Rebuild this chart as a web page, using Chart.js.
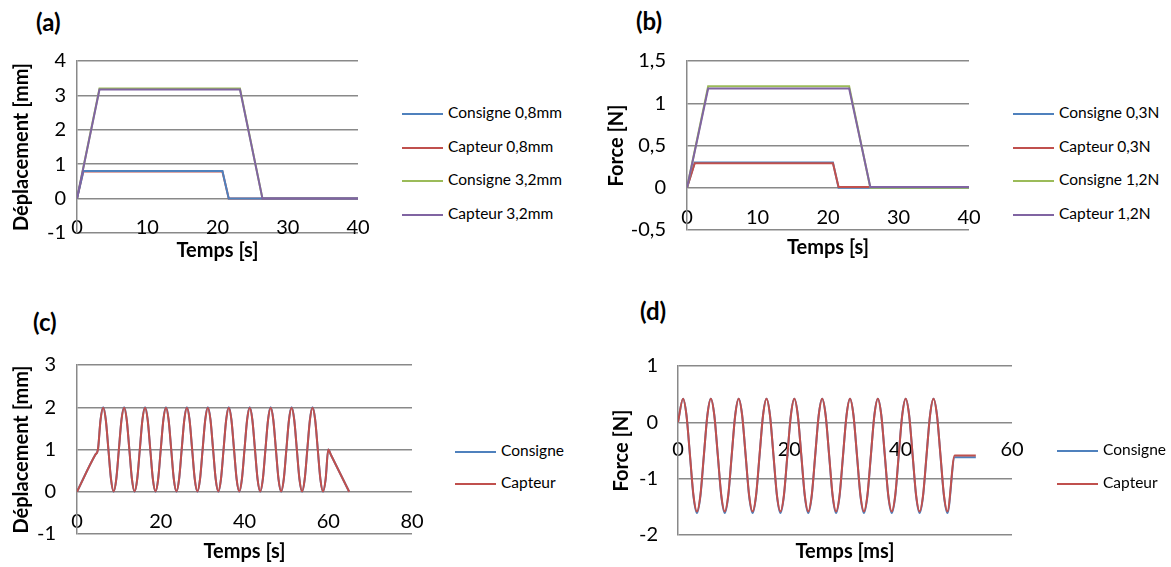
<!DOCTYPE html>
<html>
<head>
<meta charset="utf-8">
<script src="https://cdn.jsdelivr.net/npm/chart.js@4.4.1/dist/chart.umd.min.js"></script>
<style>
  html, body { margin: 0; padding: 0; background: #fff; overflow: hidden; }
  body { position: relative; width: 1171px; height: 567px; font-family: Lato, sans-serif; }
  canvas { position: absolute; }
  .tag { position: absolute; font: bold 24px Lato, sans-serif; line-height: 28px; color: #000; }
  .key { position: absolute; height: 20px; line-height: 20px; margin-top: -10px; font: 15.5px Lato, sans-serif; color: #000; white-space: nowrap; }
  .key span { display: inline-block; width: 41px; height: 2px; vertical-align: middle; margin-right: 5px; }
</style>
</head>
<body>
<div class="tag" style="left:36px;top:8px">(a)</div>
<div class="tag" style="left:636px;top:7px">(b)</div>
<div class="tag" style="left:33px;top:308px">(c)</div>
<div class="tag" style="left:640px;top:297px">(d)</div>

<canvas id="chartA" width="380" height="263" style="left:0;top:0"></canvas>
<canvas id="chartB" width="420" height="263" style="left:580px;top:0"></canvas>
<canvas id="chartC" width="440" height="284" style="left:0;top:283px"></canvas>
<canvas id="chartD" width="532" height="284" style="left:580px;top:283px"></canvas>

<script>
// (a) displacement steps
const timeA08 = [0, 0.9, 20.7, 21.6, 40];
const consigneA08 = [0, 0.8, 0.8, 0, 0];
const capteurA08 = [0, 0.79, 0.79, 0, 0];
const timeA32 = [0, 3.2, 23.2, 26.4, 40];
const consigneA32 = [0, 3.2, 3.2, 0, 0];
const capteurA32 = [0, 3.17, 3.17, 0, 0];

// (b) force steps
const timeB03 = [0, 1.1, 20.7, 21.5, 40];
const consigneB03 = [0, 0.3, 0.3, 0, 0];
const capteurB03 = [0, 0.29, 0.29, 0.01, 0.01];
const timeB12 = [0, 3.0, 23.0, 26.0, 40];
const consigneB12 = [0, 1.2, 1.2, 0, 0];
const capteurB12 = [0, 1.175, 1.175, 0.01, 0.01];

// (c) cyclic displacement
const timeC = [0, 4.375,
  5, 5.625, 6.25, 6.875, 7.5, 8.125, 8.75, 9.375,
  10, 10.625, 11.25, 11.875, 12.5, 13.125, 13.75, 14.375,
  15, 15.625, 16.25, 16.875, 17.5, 18.125, 18.75, 19.375,
  20, 20.625, 21.25, 21.875, 22.5, 23.125, 23.75, 24.375,
  25, 25.625, 26.25, 26.875, 27.5, 28.125, 28.75, 29.375,
  30, 30.625, 31.25, 31.875, 32.5, 33.125, 33.75, 34.375,
  35, 35.625, 36.25, 36.875, 37.5, 38.125, 38.75, 39.375,
  40, 40.625, 41.25, 41.875, 42.5, 43.125, 43.75, 44.375,
  45, 45.625, 46.25, 46.875, 47.5, 48.125, 48.75, 49.375,
  50, 50.625, 51.25, 51.875, 52.5, 53.125, 53.75, 54.375,
  55, 55.625, 56.25, 56.875, 57.5, 58.125, 58.75, 59.375,
  60, 60.625, 65];
const consigneC = [0, 0.875,
  1, 1.71, 2, 1.71, 1, 0.29, 0, 0.29,
  1, 1.71, 2, 1.71, 1, 0.29, 0, 0.29,
  1, 1.71, 2, 1.71, 1, 0.29, 0, 0.29,
  1, 1.71, 2, 1.71, 1, 0.29, 0, 0.29,
  1, 1.71, 2, 1.71, 1, 0.29, 0, 0.29,
  1, 1.71, 2, 1.71, 1, 0.29, 0, 0.29,
  1, 1.71, 2, 1.71, 1, 0.29, 0, 0.29,
  1, 1.71, 2, 1.71, 1, 0.29, 0, 0.29,
  1, 1.71, 2, 1.71, 1, 0.29, 0, 0.29,
  1, 1.71, 2, 1.71, 1, 0.29, 0, 0.29,
  1, 1.71, 2, 1.71, 1, 0.29, 0, 0.29,
  1, 0.875, 0];
const capteurC = [0, 0.875,
  1, 1.7, 1.99, 1.7, 1, 0.3, 0.01, 0.3,
  1, 1.7, 1.99, 1.7, 1, 0.3, 0.01, 0.3,
  1, 1.7, 1.99, 1.7, 1, 0.3, 0.01, 0.3,
  1, 1.7, 1.99, 1.7, 1, 0.3, 0.01, 0.3,
  1, 1.7, 1.99, 1.7, 1, 0.3, 0.01, 0.3,
  1, 1.7, 1.99, 1.7, 1, 0.3, 0.01, 0.3,
  1, 1.7, 1.99, 1.7, 1, 0.3, 0.01, 0.3,
  1, 1.7, 1.99, 1.7, 1, 0.3, 0.01, 0.3,
  1, 1.7, 1.99, 1.7, 1, 0.3, 0.01, 0.3,
  1, 1.7, 1.99, 1.7, 1, 0.3, 0.01, 0.3,
  1, 1.7, 1.99, 1.7, 1, 0.3, 0.01, 0.3,
  1, 0.875, 0];

// (d) cyclic force
const timeD = [0,
  0.9, 1.525, 2.15, 2.775, 3.4, 4.025, 4.65, 5.275,
  5.9, 6.525, 7.15, 7.775, 8.4, 9.025, 9.65, 10.275,
  10.9, 11.525, 12.15, 12.775, 13.4, 14.025, 14.65, 15.275,
  15.9, 16.525, 17.15, 17.775, 18.4, 19.025, 19.65, 20.275,
  20.9, 21.525, 22.15, 22.775, 23.4, 24.025, 24.65, 25.275,
  25.9, 26.525, 27.15, 27.775, 28.4, 29.025, 29.65, 30.275,
  30.9, 31.525, 32.15, 32.775, 33.4, 34.025, 34.65, 35.275,
  35.9, 36.525, 37.15, 37.775, 38.4, 39.025, 39.65, 40.275,
  40.9, 41.525, 42.15, 42.775, 43.4, 44.025, 44.65, 45.275,
  45.9, 46.525, 47.15, 47.775, 48.4,
  49.7, 53.5];
const consigneD = [0,
  0.42, 0.13, -0.59, -1.31, -1.61, -1.31, -0.59, 0.13,
  0.42, 0.13, -0.59, -1.31, -1.61, -1.31, -0.59, 0.13,
  0.42, 0.13, -0.59, -1.31, -1.61, -1.31, -0.59, 0.13,
  0.42, 0.13, -0.59, -1.31, -1.61, -1.31, -0.59, 0.13,
  0.42, 0.13, -0.59, -1.31, -1.61, -1.31, -0.59, 0.13,
  0.42, 0.13, -0.59, -1.31, -1.61, -1.31, -0.59, 0.13,
  0.42, 0.13, -0.59, -1.31, -1.61, -1.31, -0.59, 0.13,
  0.42, 0.13, -0.59, -1.31, -1.61, -1.31, -0.59, 0.13,
  0.42, 0.13, -0.59, -1.31, -1.61, -1.31, -0.59, 0.13,
  0.42, 0.13, -0.59, -1.31, -1.61,
  -0.62, -0.62];
const capteurD = [0,
  0.42, 0.12, -0.58, -1.29, -1.58, -1.29, -0.58, 0.12,
  0.42, 0.12, -0.58, -1.29, -1.58, -1.29, -0.58, 0.12,
  0.42, 0.12, -0.58, -1.29, -1.58, -1.29, -0.58, 0.12,
  0.42, 0.12, -0.58, -1.29, -1.58, -1.29, -0.58, 0.12,
  0.42, 0.12, -0.58, -1.29, -1.58, -1.29, -0.58, 0.12,
  0.42, 0.12, -0.58, -1.29, -1.58, -1.29, -0.58, 0.12,
  0.42, 0.12, -0.58, -1.29, -1.58, -1.29, -0.58, 0.12,
  0.42, 0.12, -0.58, -1.29, -1.58, -1.29, -0.58, 0.12,
  0.42, 0.12, -0.58, -1.29, -1.58, -1.29, -0.58, 0.12,
  0.42, 0.12, -0.58, -1.29, -1.58,
  -0.59, -0.59];

const blue = '#4F81BD', red = '#C0504D', green = '#9BBB59', purple = '#8064A2';
const gridGray = '#898989';

Chart.defaults.font.family = 'Lato';
Chart.defaults.color = '#000';

const pts = (xs, ys) => xs.map((x, i) => ({x: x, y: ys[i]}));
const comma = v => String(v).replace('.', ',');

function series(label, color, xs, ys, order, smooth) {
  return {
    label: label, data: pts(xs, ys), order: order,
    borderColor: color, backgroundColor: color, borderWidth: 2,
    showLine: true, pointRadius: 0,
    cubicInterpolationMode: smooth ? 'monotone' : 'default'
  };
}

function panel(id, p) {
  const chart = new Chart(document.getElementById(id), {
    type: 'scatter',
    data: { datasets: p.datasets },
    options: {
      responsive: false,
      animation: false,
      layout: { padding: p.padding },
      plugins: { legend: { display: false }, tooltip: { enabled: false } },
      scales: {
        x: {
          type: 'linear', min: p.x[0], max: p.x[1],
          grid: { display: false },
          border: { display: false },
          // mirrored so the labels can sit up inside the plot, next to the zero line
          ticks: { stepSize: p.x[2], mirror: true, padding: p.xTickPad, maxRotation: 0, font: { size: 20 }, callback: comma },
          title: { display: true, text: p.xTitle, font: { size: 20, weight: 'bold' }, padding: 0 },
          afterFit: s => { s.height = p.xHeight; }
        },
        y: {
          type: 'linear', min: p.y[0], max: p.y[1],
          grid: { color: gridGray, lineWidth: 1.5, drawTicks: false },
          border: { color: gridGray, width: 1.5 },
          ticks: { stepSize: p.y[2], padding: p.yTickPad, font: { size: 20 }, callback: comma },
          title: { display: true, text: p.yTitle, font: { size: 20, weight: 'bold' }, padding: 0 },
          afterFit: s => { s.width = p.yWidth; }
        }
      }
    }
  });

  // legend drawn as html, next to the plot
  chart.data.datasets.forEach((ds, i) => {
    const key = document.createElement('div');
    key.className = 'key';
    key.style.left = p.key[0] + 'px';
    key.style.top = (p.key[1] + i * p.key[2]) + 'px';
    key.innerHTML = '<span style="background:' + ds.borderColor + '"></span>' + ds.label;
    document.body.appendChild(key);
  });
  return chart;
}

panel('chartA', {
  datasets: [
    series('Consigne 0,8mm', blue, timeA08, consigneA08, 1),
    series('Capteur 0,8mm', red, timeA08, capteurA08, 2),
    series('Consigne 3,2mm', green, timeA32, consigneA32, 3),
    series('Capteur 3,2mm', purple, timeA32, capteurA32, 0)
  ],
  x: [0, 40, 10], y: [-1, 4, 1],
  xTitle: 'Temps [s]', yTitle: 'Déplacement [mm]',
  padding: { left: 10, right: 22, top: 61, bottom: 0 },
  yWidth: 67, xHeight: 30, xTickPad: -7, yTickPad: 11,
  key: [402, 113, 33.5]
});

panel('chartB', {
  datasets: [
    series('Consigne 0,3N', blue, timeB03, consigneB03, 3),
    series('Capteur 0,3N', red, timeB03, capteurB03, 2),
    series('Consigne 1,2N', green, timeB12, consigneB12, 1),
    series('Capteur 1,2N', purple, timeB12, capteurB12, 0)
  ],
  x: [0, 40, 10], y: [-0.5, 1.5, 0.5],
  xTitle: 'Temps [s]', yTitle: 'Force [N]',
  padding: { left: 25, right: 31, top: 61, bottom: 0 },
  yWidth: 82, xHeight: 30, xTickPad: 0, yTickPad: 21,
  key: [1013, 113, 33.7]
});

panel('chartC', {
  datasets: [
    series('Consigne', blue, timeC, consigneC, 1, true),
    series('Capteur', red, timeC, capteurC, 0, true)
  ],
  x: [0, 80, 20], y: [-1, 3, 1],
  xTitle: 'Temps [s]', yTitle: 'Déplacement [mm]',
  padding: { left: 10, right: 28, top: 82, bottom: 0 },
  yWidth: 67, xHeight: 30, xTickPad: 0, yTickPad: 21,
  key: [455, 451, 32]
});

panel('chartD', {
  datasets: [
    series('Consigne', blue, timeD, consigneD, 1, true),
    series('Capteur', red, timeD, capteurD, 0, true)
  ],
  x: [0, 60, 20], y: [-2, 1, 1],
  xTitle: 'Temps [ms]', yTitle: 'Force [N]',
  padding: { left: 30, right: 100, top: 83, bottom: 0 },
  yWidth: 68, xHeight: 29, xTickPad: 73, yTickPad: 20,
  key: [1057, 450, 33]
});
</script>
</body>
</html>
